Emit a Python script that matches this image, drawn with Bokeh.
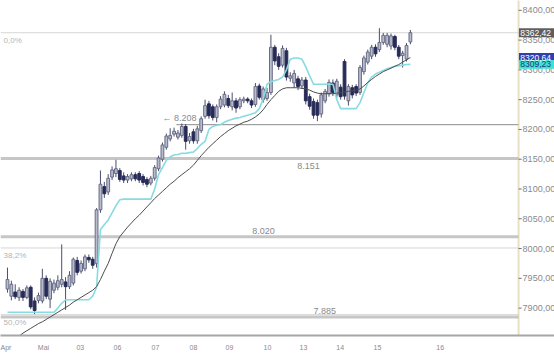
from bokeh.plotting import figure
from bokeh.models import ColumnDataSource, Range1d, FixedTicker
from bokeh.core.properties import value
from bokeh.embed import file_html
from bokeh.resources import INLINE

# ---------------- data ----------------
opens = [7932, 7920, 7927, 7918, 7928, 7918, 7935, 7912, 7913, 7912,
         7950, 7915, 7930, 7935, 7940, 7944, 7936, 7942, 7980, 7962,
         7966, 7985, 7982, 7975, 8065, 8104, 8095, 8120, 8126, 8131,
         8122, 8115, 8117, 8124, 8126, 8121, 8116, 8110, 8118, 8134,
         8150, 8170, 8184, 8192, 8187, 8190, 8205, 8181, 8196, 8181,
         8198, 8222, 8243, 8238, 8220, 8238, 8241, 8252, 8238, 8248,
         8238, 8248, 8251, 8248, 8242, 8273, 8250, 8252, 8262, 8338,
         8322, 8308, 8332, 8286, 8278, 8285, 8273, 8283, 8255, 8247,
         8245, 8226, 8248, 8260, 8278, 8258, 8271, 8314, 8248, 8270,
         8272, 8262, 8297, 8313, 8323, 8338, 8334, 8346, 8343, 8340,
         8356, 8338, 8324, 8318, 8347]
highs = [7968, 7946, 7940, 7935, 7932, 7938, 7938, 7918, 7926, 7966,
         7955, 7950, 7948, 7955, 8007, 7952, 7962, 7985, 7986, 7980,
         7990, 7990, 7986, 8068, 8131, 8112, 8125, 8138, 8149, 8135,
         8128, 8125, 8128, 8128, 8130, 8125, 8120, 8122, 8140, 8156,
         8178, 8193, 8202, 8203, 8199, 8210, 8209, 8194, 8201, 8206,
         8222, 8250, 8248, 8242, 8242, 8256, 8264, 8258, 8262, 8253,
         8254, 8255, 8254, 8252, 8278, 8277, 8272, 8270, 8359, 8342,
         8328, 8341, 8337, 8296, 8300, 8290, 8288, 8288, 8260, 8252,
         8250, 8262, 8268, 8284, 8284, 8285, 8276, 8318, 8276, 8275,
         8276, 8308, 8324, 8334, 8342, 8343, 8370, 8362, 8362, 8361,
         8359, 8342, 8332, 8345, 8367]
lows = [7926, 7913, 7915, 7912, 7912, 7915, 7898, 7890, 7908, 7908,
        7915, 7900, 7925, 7930, 7935, 7897, 7932, 7938, 7955, 7958,
        7962, 7976, 7966, 7968, 8060, 8085, 8090, 8115, 8120, 8112,
        8110, 8110, 8113, 8113, 8110, 8106, 8103, 8106, 8114, 8130,
        8146, 8166, 8180, 8188, 8183, 8186, 8166, 8176, 8176, 8176,
        8194, 8218, 8218, 8215, 8212, 8234, 8237, 8236, 8232, 8228,
        8234, 8244, 8244, 8236, 8238, 8250, 8245, 8248, 8258, 8308,
        8300, 8304, 8282, 8280, 8270, 8266, 8268, 8242, 8233, 8218,
        8214, 8220, 8244, 8255, 8256, 8252, 8250, 8250, 8240, 8252,
        8256, 8258, 8292, 8309, 8318, 8322, 8330, 8342, 8338, 8334,
        8333, 8318, 8304, 8314, 8343]
closes = [7948, 7940, 7919, 7930, 7918, 7934, 7902, 7896, 7921, 7950,
          7920, 7945, 7942, 7946, 7948, 7936, 7955, 7982, 7960, 7975,
          7986, 7981, 7972, 8065, 8108, 8092, 8118, 8132, 8134, 8116,
          8115, 8121, 8124, 8117, 8115, 8111, 8108, 8118, 8136, 8152,
          8174, 8189, 8190, 8197, 8194, 8205, 8180, 8188, 8181, 8201,
          8218, 8240, 8223, 8220, 8238, 8251, 8259, 8240, 8248, 8236,
          8250, 8251, 8248, 8241, 8272, 8254, 8268, 8262, 8338, 8315,
          8306, 8336, 8288, 8290, 8294, 8272, 8283, 8248, 8239, 8224,
          8224, 8258, 8264, 8279, 8262, 8281, 8255, 8256, 8272, 8258,
          8261, 8304, 8320, 8330, 8338, 8327, 8346, 8358, 8358, 8357,
          8338, 8323, 8328, 8341, 8362.42]
cyan_line = [7893, 7893, 7893, 7893, 7893, 7893, 7893, 7893, 7893, 7893,
             7893, 7893, 7893, 7900, 7908, 7914, 7914, 7914, 7914, 7914,
             7914, 7914, 7920, 7935, 8032, 8040, 8048, 8060, 8072, 8082,
             8083, 8083, 8083, 8083, 8083, 8083, 8083, 8083, 8100, 8124,
             8136, 8148, 8154, 8157, 8158, 8160, 8160, 8161, 8162, 8168,
             8175, 8180, 8200, 8205, 8207, 8208, 8212, 8215, 8217, 8219,
             8220, 8222, 8224, 8226, 8228, 8235, 8251, 8276, 8280, 8282,
             8284, 8288, 8300, 8318, 8320, 8320, 8318, 8305, 8290, 8276,
             8276, 8276, 8276, 8276, 8276, 8250, 8235, 8235, 8235, 8235,
             8235, 8245, 8262, 8278, 8288, 8293, 8296, 8299, 8302, 8304,
             8306, 8307, 8308, 8309, 8309.23]
ma_line = [7838, 7843, 7848, 7853, 7858, 7862, 7866, 7870, 7874, 7877,
           7881, 7885, 7889, 7893, 7897, 7901, 7905, 7910, 7914, 7918,
           7922, 7926, 7930, 7936, 7948, 7962, 7975, 7992, 8008, 8020,
           8028, 8036, 8043, 8050, 8056, 8063, 8070, 8077, 8084, 8090,
           8096, 8102, 8108, 8113, 8119, 8124, 8129, 8134, 8140, 8148,
           8156, 8163, 8170, 8176, 8182, 8188, 8193, 8198, 8202, 8206,
           8209, 8212, 8214, 8217, 8221, 8226, 8233, 8242, 8250, 8257,
           8264, 8268, 8270, 8270, 8270, 8270, 8269, 8268, 8266, 8263,
           8261, 8260, 8260, 8260, 8260, 8261, 8262, 8263, 8264, 8265,
           8266, 8268, 8273, 8279, 8284, 8289, 8293, 8297, 8300, 8303,
           8306, 8309, 8313, 8317, 8320.64]

level_values = [8208, 8151, 8020, 7885]
level_labels = ["\u2190 8.208", "8.151", "8.020", "7.885"]
fib_values = [8362.4, 8001, 7889]
fib_labels = ["0,0%", "38,2%", "50,0%"]
x_tick_index = [-0.5, 9.3, 18.8, 28.4, 38.2, 48.0, 57.3, 67.1, 76.4, 85.9, 95.5, 111.7]
x_tick_labels = ["Apr", "Mai", "03", "06", "07", "08", "09", "10", "13", "14", "15", "16"]
y_ticks = [7900, 7950, 8000, 8050, 8100, 8150, 8200, 8250, 8300, 8350, 8400]
last_close = 8362.42
last_ma = 8320.64
last_cyan = 8309.23

FONT = "Liberation Sans"

# ---------------- figure ----------------
n = len(closes)
idx = list(range(n))
up = [c >= o for o, c in zip(opens, closes)]

XMIN, XMAX = -1.8, 141.2      # full canvas width
AX = 131.92                   # price-scale column starts here
YMIN, YMAX = 7854, 8416.5

p = figure(width=554, height=353, output_backend="svg", toolbar_location=None,
           x_range=Range1d(XMIN, XMAX), y_range=Range1d(YMIN, YMAX),
           y_axis_location=None, min_border_left=0, min_border_top=0,
           min_border_right=0, min_border_bottom=12)
p.outline_line_color = None
p.grid.visible = False
p.background_fill_color = "white"
p.border_fill_color = "white"

# fibonacci lines (thin)
for v in fib_values:
    p.segment(x0=[XMIN], x1=[AX], y0=[v], y1=[v], line_color="#d6d6d6", line_width=1)
p.text(x=[-1.0] * len(fib_values), y=fib_values, text=fib_labels,
       text_font=value(FONT), text_font_size="8px", text_color="#b4b4b4",
       text_baseline="top", text_align="left", y_offset=3)

# support / resistance lines
p.segment(x0=[43.6], x1=[AX], y0=[level_values[0]], y1=[level_values[0]],
          line_color="#8c8c8c", line_width=1)
for v in level_values[1:]:
    p.segment(x0=[XMIN], x1=[AX], y0=[v], y1=[v], line_color="#c6c6c6", line_width=3)

p.text(x=[40.0], y=[level_values[0]], text=[level_labels[0]], text_font=value(FONT),
       text_font_size="9px", text_color="#8a8a8a", text_baseline="bottom", y_offset=-2)
p.text(x=[74.8], y=[level_values[1]], text=[level_labels[1]], text_font=value(FONT),
       text_font_size="9px", text_color="#8a8a8a", text_baseline="top", y_offset=4)
p.text(x=[63.2], y=[level_values[2]], text=[level_labels[2]], text_font=value(FONT),
       text_font_size="9px", text_color="#8a8a8a", text_baseline="bottom", y_offset=-3)
p.text(x=[79.0], y=[level_values[3]], text=[level_labels[3]], text_font=value(FONT),
       text_font_size="9px", text_color="#8a8a8a", text_baseline="bottom", y_offset=-3)

# candles
src = ColumnDataSource(dict(
    x=idx, o=opens, h=highs, l=lows, c=closes,
    top=[max(o, c) for o, c in zip(opens, closes)],
    bot=[min(o, c) for o, c in zip(opens, closes)],
    fill=["#b8bccc" if u else "#272b57" for u in up],
    edge=["#686c86" if u else "#272b57" for u in up],
))
p.segment(x0="x", x1="x", y0="h", y1="l", source=src, line_color="#4a4e6a", line_width=1)
p.vbar(x="x", width=0.72, top="top", bottom="bot", source=src,
       fill_color="fill", line_color="edge", line_width=1)

# indicator lines
p.line(idx, cyan_line, line_color="#86dce0", line_width=1.6)
p.line(idx, ma_line, line_color="#4c4c4c", line_width=1)

# price scale column (right side)
p.segment(x0=[AX], x1=[AX], y0=[YMIN], y1=[YMAX], line_color="#d4bf88",
          line_width=2, line_dash="1 1")
p.segment(x0=[AX] * len(y_ticks), x1=[AX + 0.8] * len(y_ticks), y0=y_ticks, y1=y_ticks,
          line_color="#707070", line_width=1)
p.text(x=[AX + 1.05] * len(y_ticks), y=y_ticks, text=[f"{t},00" for t in y_ticks],
       text_font=value(FONT), text_font_size="9px", text_color="#8a8a8a",
       text_baseline="middle", text_align="left")

# last-value tags
tag_vals = [last_close, last_ma, last_cyan]
tag_bg = ["#5e5e5e", "#2f3fb0", "#40e0d2"]
tag_fg = ["#ffffff", "#ffffff", "#1c3a78"]
p.quad(left=[AX + 0.1] * 3, right=[XMAX] * 3,
       top=[v + 7.5 for v in tag_vals], bottom=[v - 7.5 for v in tag_vals],
       fill_color=tag_bg, line_color=None)
p.text(x=[AX + 0.45] * 3, y=tag_vals, text=[f"{v:.2f}".replace(".", ",") for v in tag_vals],
       text_font=value(FONT), text_font_size="8.5px", text_color=tag_fg,
       text_baseline="middle", text_align="left")

# bottom time axis
xa = p.xaxis[0]
xa.ticker = FixedTicker(ticks=x_tick_index)
xa.major_label_overrides = {t: s for t, s in zip(x_tick_index, x_tick_labels)}
xa.axis_line_color = "#a6a6a6"
xa.axis_line_width = 2
xa.major_tick_line_color = None
xa.minor_tick_line_color = None
xa.major_label_standoff = 2
xa.major_label_text_font = FONT
xa.major_label_text_font_size = "7px"
xa.major_label_text_color = "#8a8a8a"

open("out.html", "w").write(file_html(p, INLINE))
